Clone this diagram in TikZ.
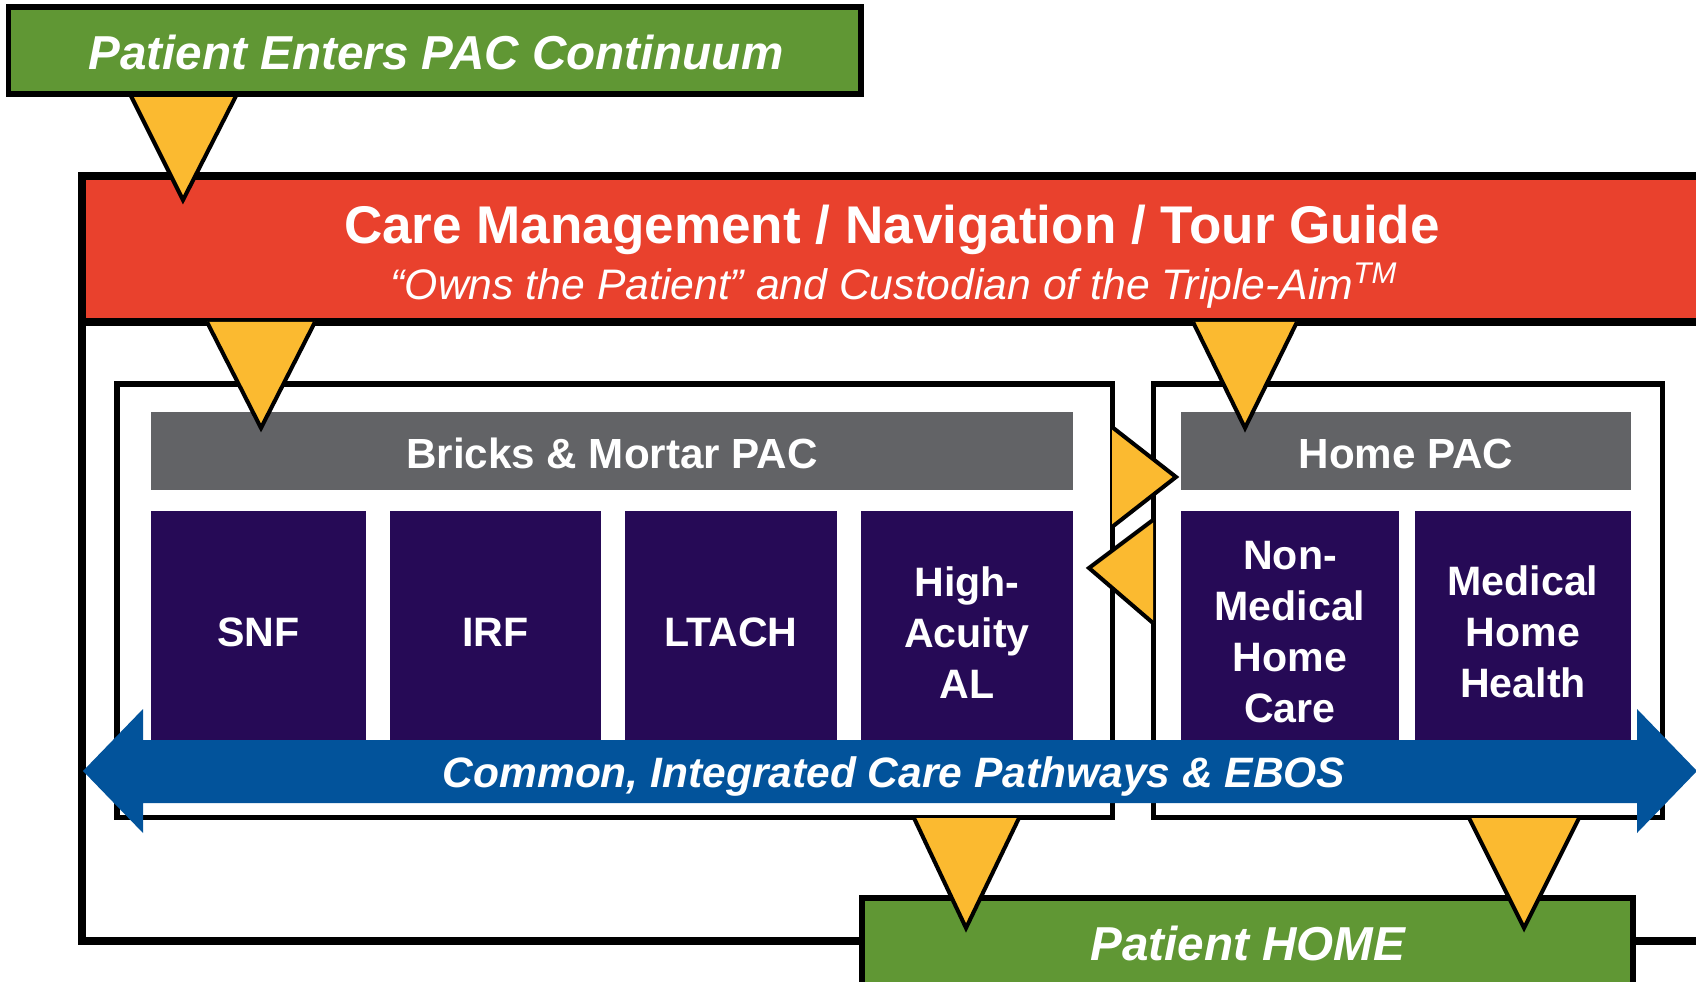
\documentclass[tikz,border=0pt]{standalone}
\usepackage{fontspec}
\setmainfont{Liberation Sans}
\definecolor{pacgreen}{RGB}{96,151,52}
\definecolor{pacred}{RGB}{233,65,45}
\definecolor{pacgray}{RGB}{98,99,102}
\definecolor{pacpurple}{RGB}{38,10,86}
\definecolor{pacblue}{RGB}{2,83,155}
\definecolor{pacyellow}{RGB}{251,186,48}
% yellow wedge: filled triangle, outlined on its two slanted sides only
\newcommand{\wedgeptr}[3]{%
  \fill[pacyellow] #2 -- #1 -- #3 -- cycle;
  \draw[wedgeline] #2 -- #1 -- #3;}
\begin{document}
\begin{tikzpicture}[x=0.02cm,y=-0.02cm,
  box/.style 2 args={rectangle, inner sep=0pt, outer sep=0pt,
    minimum width=#1*0.02cm, minimum height=#2*0.02cm},
  frameline/.style={draw=black, line width=4pt},
  boxline/.style={draw=black, fill=white, line width=2.85pt},
  wedgeline/.style={draw=black, line width=2.3pt, line join=miter, miter limit=20},
  header/.style={fill=pacgray},
  headertext/.style={text=white, font=\bfseries\fontsize{24}{28}\selectfont},
  service/.style={fill=pacpurple, text=white, align=center,
    font=\bfseries\fontsize{23.4}{29}\selectfont},
  greenbox/.style={fill=pacgreen, draw=black, line width=3.4pt},
  greentext/.style={text=white, font=\bfseries\itshape\fontsize{27.1}{32}\selectfont},
]
\useasboundingbox (0,0) rectangle (1696,982);
\clip (0,0) rectangle (1696,982);
\fill[white] (0,0) rectangle (1696,982);

% outer frame and the care-management band
\node[box={1678}{765}, frameline, fill=white] (frame) at (921,558.5) {};
\node[box={1678}{146}, frameline, fill=pacred] (band) at (921,249) {};
\node[text=white, font=\bfseries\fontsize{30.2}{36}\selectfont] (title) at (892,230)
  {Care Management / Navigation / Tour Guide};
\node[text=white, font=\itshape\fontsize{24.3}{29}\selectfont] (subtitle) at (894,286)
  {“Owns the Patient” and Custodian of the Triple-Aim\textsuperscript{TM}};

% the two settings of post-acute care
\node[box={995}{433.5}, boxline] (bricks) at (614.5,600.75) {};
\node[box={509.5}{433.5}, boxline] (homepac) at (1407.75,600.75) {};

\node[box={922}{78}, header] (bricksbar) at (612,451) {};
\node[headertext] (brickstext) at (612,453.5) {Bricks \& Mortar PAC};
\node[box={450}{78}, header] (homebar) at (1406,451) {};
\node[headertext] (hometitle) at (1406,453.5) {Home PAC};

\node[box={215}{241.5}, service] (snf) at (258.5,632.25) {SNF};
\node[box={211}{241.5}, service] (irf) at (495.5,632.25) {IRF};
\node[box={212}{241.5}, service] (ltach) at (731,632.25) {LTACH};
\node[box={212}{241.5}, service] (hal) at (967,632.25) {High-\\Acuity\\AL};
\node[box={218}{241.5}, service] (nmhc) at (1290,632.25) {Non-\\Medical\\Home\\Care};
\node[box={216}{241.5}, service] (mhh) at (1523,632.25) {Medical\\Home\\Health};

% destination box
\node[box={770}{110}, fill=pacgreen] (home) at (1248,953) {};
\draw[black, line width=3.2pt] (862,1010) -- (862,898) -- (1633,898) -- (1633,1010);
\node[greentext] (hometext) at (1248,943) {Patient HOME};

% shared pathways double arrow
\fill[pacblue] (83,771) -- (143,709) -- (143,740) -- (1637,740) -- (1637,709)
  -- (1697,771) -- (1637,833) -- (1637,803) -- (143,803) -- (143,833) -- cycle;
\node[text=white, font=\bfseries\itshape\fontsize{24.2}{29}\selectfont] (pathways) at (894,777)
  {Common, Integrated Care Pathways \& EBOS};

% hand-off wedges
\wedgeptr{(261,428)}{(207,322)}{(315,322)}
\wedgeptr{(1245,428)}{(1193,322)}{(1297,322)}
\wedgeptr{(1176,477)}{(1112,427)}{(1112,527)}
\wedgeptr{(1089,568)}{(1153,520)}{(1153,623)}
\wedgeptr{(966,928)}{(914,818)}{(1019,818)}
\wedgeptr{(1524,928)}{(1469,818)}{(1579,818)}
\wedgeptr{(183,200)}{(130,94)}{(237,94)}

% entry box
\node[box={852}{87}, greenbox] (enter) at (434.5,50.5) {};
\node[greentext] (entertext) at (436,52) {Patient Enters PAC Continuum};
\end{tikzpicture}
\end{document}
